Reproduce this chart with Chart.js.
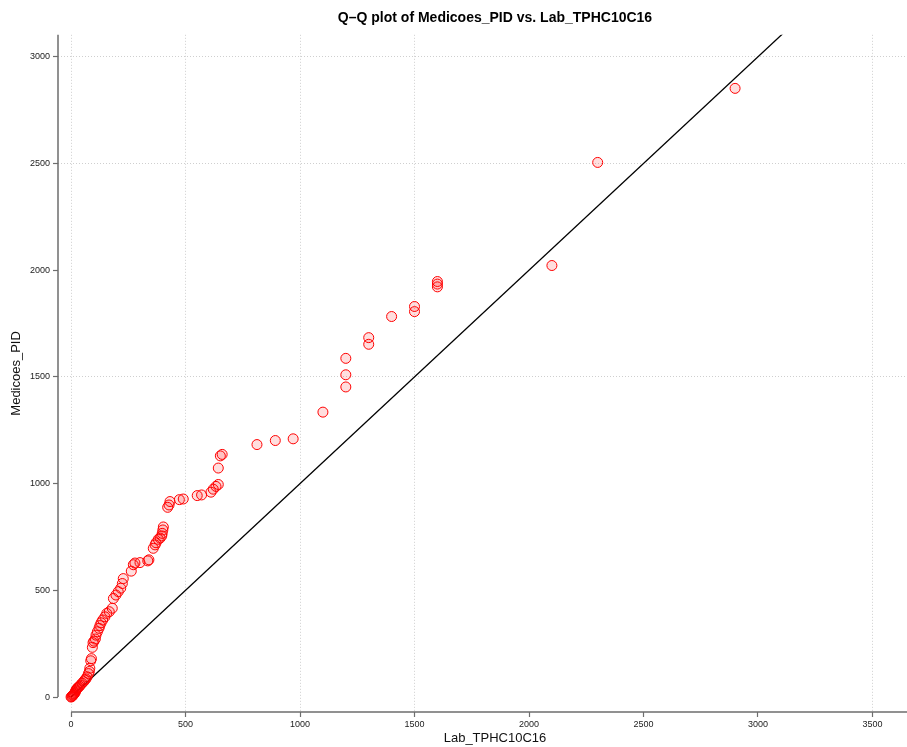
<!DOCTYPE html>
<html>
<head>
<meta charset="utf-8">
<script src="https://cdn.jsdelivr.net/npm/chart.js@4.4.1/dist/chart.umd.min.js"></script>
<style>
  html, body { margin: 0; padding: 0; background: #fff; overflow: hidden; }
  #wrap { width: 938px; height: 747px; position: relative; }
</style>
</head>
<body>
<div id="wrap"><canvas id="c"></canvas></div>
<script>
// Sorted quantiles (Q-Q pairs)
const labValues = [0,3,5,8,10,12,15,18,20,22,25,28,31,36,41,48,55,60,65,70,76,80,82,86,89,93,96,100,106,109,115,122,126,131,138,148,156,167,180,185,196,206,217,224,228,263,272,279,301,335,340,359,367,371,381,389,396,398,401,403,422,428,432,473,490,551,570,611,621,633,643,643,652,660,812,892,970,1100,1200,1200,1200,1300,1300,1400,1500,1500,1600,1600,1600,2100,2300,2900];
const pidValues = [0,2,5,8,10,14,17,22,28,33,38,42,45,50,56,65,72,80,85,95,110,120,135,170,180,233,255,262,272,290,306,322,335,348,361,376,392,400,416,462,478,494,510,532,555,590,620,628,630,638,643,697,713,723,739,745,755,767,783,797,889,900,916,925,928,944,947,960,974,987,996,1073,1130,1137,1183,1202,1210,1335,1453,1510,1587,1653,1684,1783,1806,1830,1922,1935,1947,2022,2505,2852];
const refLine = [0, 3300];
const xTicks = [0,500,1000,1500,2000,2500,3000,3500];
const yTicks = [0,500,1000,1500,2000,2500,3000];
const xGridShown = [0,500,1000,1500,3500];
const yGridShown = [1500,2500,3000];

const points = labValues.map((v, i) => ({x: v, y: pidValues[i]}));
const linePts = refLine.map(v => ({x: v, y: v}));

const axisLines = {
  id: 'axisLines',
  afterDraw(chart) {
    const {ctx, chartArea} = chart;
    const xs = chart.scales.x, ys = chart.scales.y;
    ctx.save();
    ctx.strokeStyle = '#6e6e6e';
    ctx.lineWidth = 1.5;
    ctx.beginPath();
    ctx.moveTo(chartArea.left, chartArea.top);
    ctx.lineTo(chartArea.left, ys.getPixelForValue(0));
    ctx.moveTo(xs.getPixelForValue(0), chartArea.bottom);
    ctx.lineTo(chartArea.right, chartArea.bottom);
    ctx.stroke();
    ctx.restore();
  }
};

const FONT = "'Liberation Sans', Arial, sans-serif";

new Chart(document.getElementById('c'), {
  type: 'scatter',
  data: {
    datasets: [
      {
        type: 'line',
        data: linePts,
        borderColor: '#000',
        borderWidth: 1.3,
        pointRadius: 0,
        fill: false,
        order: 2
      },
      {
        data: points,
        pointRadius: 5,
        pointBorderWidth: 1,
        borderColor: '#ff0000',
        backgroundColor: 'rgba(255,0,0,0.13)',
        order: 1
      }
    ]
  },
  options: {
    responsive: true,
    maintainAspectRatio: false,
    animation: false,
    layout: { padding: { left: 0, right: 0, top: 0, bottom: 0 } },
    plugins: {
      legend: { display: false },
      tooltip: { enabled: false },
      title: {
        display: true,
        fullSize: false,
        text: 'Q–Q plot of Medicoes_PID vs. Lab_TPHC10C16',
        color: '#000',
        font: { family: FONT, size: 14, weight: 'bold' },
        padding: { top: 10, bottom: 8 }
      }
    },
    scales: {
      x: {
        type: 'linear',
        min: -57,
        max: 3760,
        afterBuildTicks(s) { s.ticks = xTicks.map(v => ({ value: v })); },
        afterFit(s) { s.height = 35; },
        ticks: { color: '#222', font: { family: FONT, size: 9 }, padding: 2, maxRotation: 0, callback: v => String(v) },
        grid: {
          color: c => (c.tick && xGridShown.includes(c.tick.value)) ? '#cfcfcf' : 'rgba(0,0,0,0)',
          tickColor: '#6e6e6e',
          tickLength: 5,
          tickWidth: 1.2,
          lineWidth: 1
        },
        border: { display: false, dash: [1, 2] },
        title: {
          display: true,
          text: 'Lab_TPHC10C16',
          color: '#111',
          font: { family: FONT, size: 13 },
          padding: { top: 0, bottom: 1 }
        }
      },
      y: {
        type: 'linear',
        min: -70,
        max: 3103,
        afterBuildTicks(s) { s.ticks = yTicks.map(v => ({ value: v })); },
        afterFit(s) { s.width = 58; },
        ticks: { color: '#222', font: { family: FONT, size: 9 }, padding: 3, callback: v => String(v) },
        grid: {
          color: c => (c.tick && yGridShown.includes(c.tick.value)) ? '#cfcfcf' : 'rgba(0,0,0,0)',
          tickColor: '#6e6e6e',
          tickLength: 5,
          tickWidth: 1.2,
          lineWidth: 1
        },
        border: { display: false, dash: [1, 2] },
        title: {
          display: true,
          text: 'Medicoes_PID',
          color: '#111',
          font: { family: FONT, size: 13 },
          padding: { top: 9, bottom: 0 }
        }
      }
    }
  },
  plugins: [axisLines]
});
</script>
</body>
</html>
